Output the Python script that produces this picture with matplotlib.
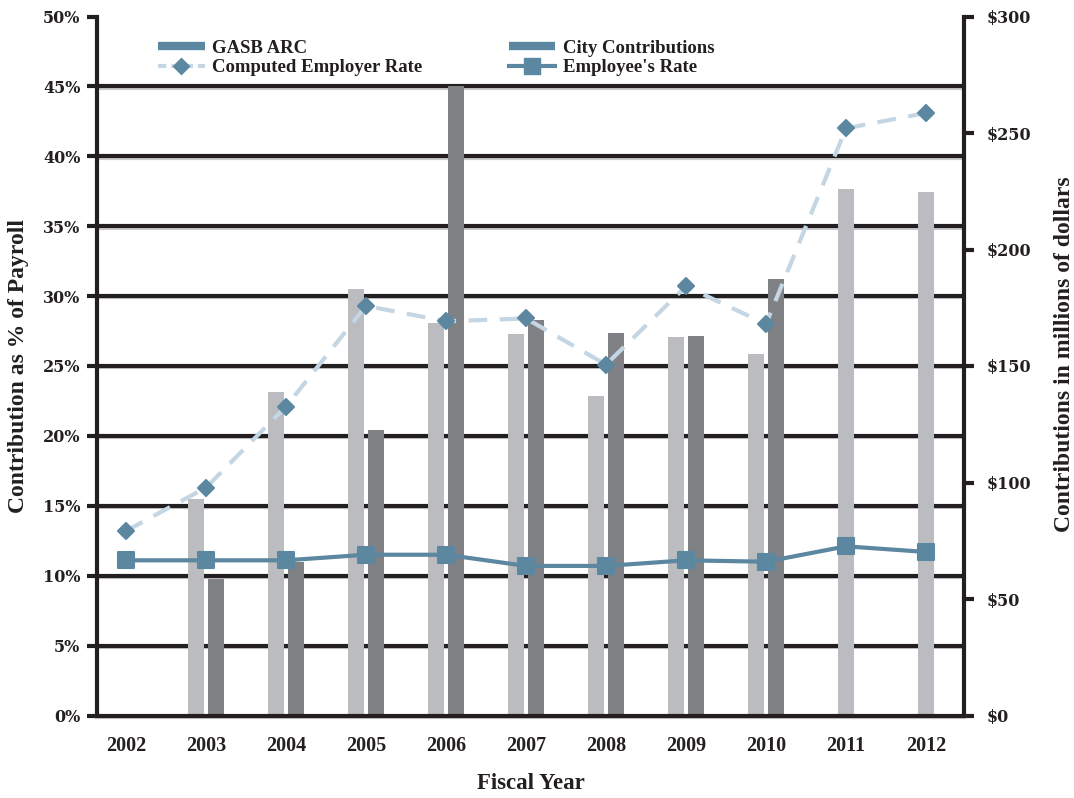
import numpy as np
import matplotlib
matplotlib.use("Agg")
import matplotlib.pyplot as plt
import matplotlib.patheffects as pe
from matplotlib.lines import Line2D
from matplotlib.markers import MarkerStyle

# fiscal years and values
years = ["2002", "2003", "2004", "2005", "2006", "2007", "2008", "2009", "2010", "2011", "2012"]
# dollars, millions (right axis)
gasb_arc = [np.nan, 92.8, 138.8, 183.0, 168.5, 163.8, 137.1, 162.4, 155.2, 226.0, 224.7]
city_contrib = [np.nan, 58.5, 66.0, 122.5, 270.2, 169.8, 164.2, 162.9, 187.3, np.nan, np.nan]
# percent of payroll (left axis)
employer_rate = [13.2, 16.3, 22.1, 29.3, 28.2, 28.4, 25.1, 30.7, 28.0, 42.0, 43.1]
employee_rate = [11.1, 11.1, 11.1, 11.5, 11.5, 10.7, 10.7, 11.1, 11.0, 12.1, 11.7]

pct_ticks = [0, 5, 10, 15, 20, 25, 30, 35, 40, 45, 50]
dollar_ticks = [0, 50, 100, 150, 200, 250, 300]

INK = "#231F20"
LIGHT_BAR = "#BBBCC0"
DARK_BAR = "#808185"
STEEL = "#5B87A1"
PALE = "#C4D6E3"
SERIF = "Liberation Serif"
TICKFONT = "DejaVu Serif"

fig = plt.figure(figsize=(10.74, 7.98), dpi=100, facecolor="white")
rect = [97 / 1074, 82.5 / 798, 867 / 1074, 699 / 798]

# bottom layer: % axis with gridlines
axg = fig.add_axes(rect, zorder=0)
# middle layer: $ axis with bars
axr = axg.twinx()
axr.set_zorder(1)
# top layer: rate lines, spines, legend
axl = axg.twinx()
axl.set_zorder(2)
for a in (axr, axl):
    a.patch.set_visible(False)

x = np.arange(len(years))
axg.set_xlim(-0.3625, 10.475)
axg.set_ylim(0, 50)
axr.set_ylim(0, 300)
axl.set_ylim(0, 50)

shadow = [pe.SimpleLineShadow(offset=(0, -1.0), shadow_color="#C9CACC", alpha=1), pe.Normal()]
for t in pct_ticks[1:-1]:
    axg.axhline(t, color=INK, lw=3, path_effects=shadow)

# bars: pair side by side, a lone GASB bar sits on the year
gasb = np.array(gasb_arc)
city = np.array(city_contrib)
both = ~np.isnan(gasb) & ~np.isnan(city)
off, w = 0.125, 0.19
axr.bar(x - np.where(both, off, 0), np.nan_to_num(gasb), w, color=LIGHT_BAR, lw=0)
axr.bar(x + off, np.nan_to_num(city), w, color=DARK_BAR, lw=0)

sq = MarkerStyle("s", joinstyle="round")
dia = MarkerStyle("D", joinstyle="round")
axl.plot(x, employer_rate, color=PALE, lw=3, dashes=(4.5, 3), zorder=2)
axl.plot(x, employer_rate, ls="none", marker=dia, ms=8.5, color=STEEL, mec=STEEL, mew=1.5, zorder=3)
axl.plot(x, employee_rate, color=STEEL, lw=3, marker=sq, ms=11, mec=STEEL, mew=1.5, zorder=4)

# spines only on top layer
for a in (axg, axr, axl):
    for s in a.spines.values():
        s.set_visible(False)
for side in ("left", "right", "bottom"):
    axl.spines[side].set_visible(True)
    axl.spines[side].set_linewidth(3)
    axl.spines[side].set_color(INK)
axl.spines["bottom"].set_path_effects(shadow)
axl.set_yticks([])
axl.tick_params(axis="both", length=0, labelleft=False, labelright=False, labelbottom=False)

# left ticks
axg.set_yticks(pct_ticks)
axg.set_yticklabels([f"{t}%" for t in pct_ticks])
axg.tick_params(axis="y", direction="out", length=7, width=3, color=INK, pad=5,
                labelsize=11.5, labelcolor=INK)
for lab in axg.get_yticklabels():
    lab.set_fontfamily(TICKFONT)
    lab.set_fontweight("bold")

# right ticks
axr.set_yticks(dollar_ticks)
axr.set_yticklabels([f"${t}" for t in dollar_ticks])
axr.tick_params(axis="y", direction="out", length=7, width=3, color=INK, pad=9,
                labelsize=11.5, labelcolor=INK)
for lab in axr.get_yticklabels():
    lab.set_fontfamily(TICKFONT)
    lab.set_fontweight("bold")

# year labels
axg.set_xticks(x)
axg.set_xticklabels(years, fontfamily=SERIF, fontweight="bold", fontsize=14.5, color=INK)
axg.tick_params(axis="x", length=0, pad=15)

axg.set_xlabel("Fiscal Year", fontfamily=SERIF, fontweight="bold", fontsize=16.5, color=INK,
               labelpad=12)
axg.set_ylabel("Contribution as % of Payroll", fontfamily=SERIF, fontweight="bold",
               fontsize=17, color=INK)
axg.yaxis.set_label_coords(-0.078, 0.5)
axr.set_ylabel("Contributions in millions of dollars", fontfamily=SERIF, fontweight="bold",
               fontsize=17, color=INK, rotation=90)
axr.yaxis.set_label_coords(1.104, 0.517)

handles = [
    Line2D([], [], color=STEEL, lw=6, solid_capstyle="butt"),
    Line2D([], [], color=PALE, lw=3, dashes=(2, 1.2), marker=dia, ms=8.5, mfc=STEEL, mec=STEEL),
    Line2D([], [], color=STEEL, lw=6, solid_capstyle="butt"),
    Line2D([], [], color=STEEL, lw=3, marker=sq, ms=11, mfc=STEEL, mec=STEEL),
]
labels = ["GASB ARC", "Computed Employer Rate", "City Contributions", "Employee's Rate"]
leg = axl.legend(handles, labels, ncol=2, loc="upper left", bbox_to_anchor=(0.07, 0.967),
                 frameon=False, borderpad=0, borderaxespad=0, labelspacing=0.12,
                 handlelength=2.5, handletextpad=0.4, columnspacing=4.6,
                 prop={"family": SERIF, "weight": "bold", "size": 13.5})
for t in leg.get_texts():
    t.set_color(INK)

fig.savefig("out.png", dpi=100, facecolor="white")
